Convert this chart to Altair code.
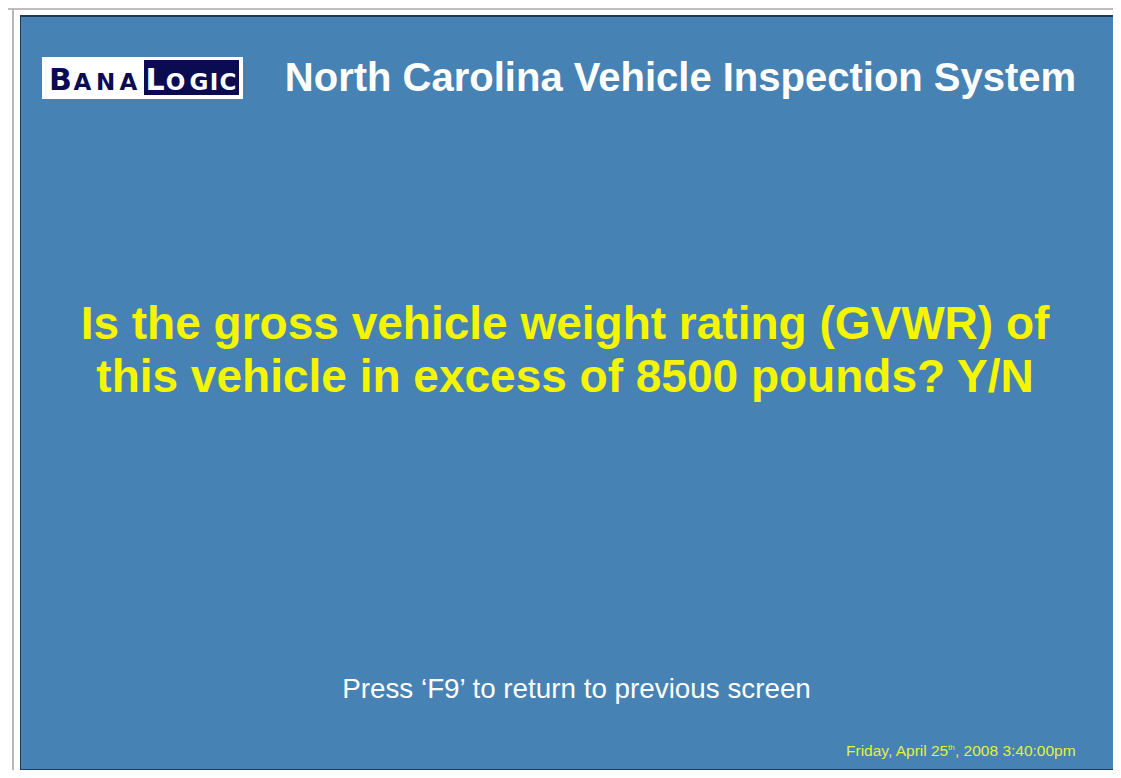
import altair as alt
import pandas as pd

# Text content of the screen
logo_left = ["B", "A", "N", "A"]
logo_right = ["L", "O", "G", "I", "C"]
title_text = ["North Carolina Vehicle Inspection System"]
question_lines = ["Is the gross vehicle weight rating (GVWR) of",
                  "this vehicle in excess of 8500 pounds? Y/N"]
footer_text = ["Press \u2018F9\u2019 to return to previous screen"]
date_parts = ["Friday, April 25", "th", ", 2008 3:40:00pm"]

W, H = 1105, 762
FONT = "Liberation Sans"
LOGO_FONT = "DejaVu Sans"
BLUE = "#4682b4"
NAVY = "#0b0b52"
YELLOW = "#f5f500"
DATE_YELLOW = "#e4f03a"

# page position -> chart position (page has an 8px margin)
def PX(x):
    return x - 8

def PY(y):
    return y - 8

one = pd.DataFrame({"k": [0]})
base = alt.Chart(one)

def rect(x, x2, y, y2, color):
    return base.mark_rect(color=color).encode(
        x=alt.value(PX(x)), x2=alt.value(PX(x2)),
        y=alt.value(PY(y)), y2=alt.value(PY(y2)))

def text(s, x, y, size, color, weight="normal", align="center", font=FONT):
    df = pd.DataFrame({"t": [s]})
    return alt.Chart(df).mark_text(
        font=font, fontSize=size, fontWeight=weight, color=color,
        align=align, baseline="alphabetic"
    ).encode(text="t:N", x=alt.value(PX(x)), y=alt.value(PY(y)))

# logo letter centres (small-caps look: first letter bigger)
left_x = [60.5, 82.5, 105.5, 128.5]
right_x = [155, 175.5, 199, 214, 228]

layers = [
    # frame
    rect(0, 1140, 0, 800, "#ffffff"),
    rect(0, 1140, 5, 10, "#bdbdbd"),
    rect(12, 14, 5, 800, "#b8b8b8"),
    rect(20, 1140, 15, 771, "#1f3b55"),
    rect(21, 1140, 17, 769, BLUE),
    # logo
    rect(42, 243, 57, 99, "#ffffff"),
    rect(144, 239, 60, 95, NAVY),
]
for i, ch in enumerate(logo_left):
    layers.append(text(ch, left_x[i], 90, 30 if i == 0 else 23, NAVY, "bold", "center", LOGO_FONT))
for i, ch in enumerate(logo_right):
    layers.append(text(ch, right_x[i], 90, 30 if i == 0 else 23, "#ffffff", "bold", "center", LOGO_FONT))

layers += [
    # title
    text(title_text[0], 680.5, 91, 40, "#ffffff", "bold"),
    # question
    text(question_lines[0], 565, 339, 46, YELLOW, "bold"),
    text(question_lines[1], 565, 392, 46, YELLOW, "bold"),
    # footer
    text(footer_text[0], 576.5, 698, 27.8, "#ffffff"),
    # date
    text(date_parts[0], 846, 756, 15.5, DATE_YELLOW, "normal", "left"),
    text(date_parts[1], 948, 750, 8, DATE_YELLOW, "normal", "left"),
    text(date_parts[2], 955, 756, 15.5, DATE_YELLOW, "normal", "left"),
]

chart = alt.layer(*layers).properties(
    width=W, height=H,
    autosize=alt.AutoSizeParams(type="fit", contains="padding"),
    padding=0,
    background="#ffffff",
).configure_view(stroke=None, clip=True)

chart.save("out.html", embed_options={"renderer": "svg", "actions": False})
